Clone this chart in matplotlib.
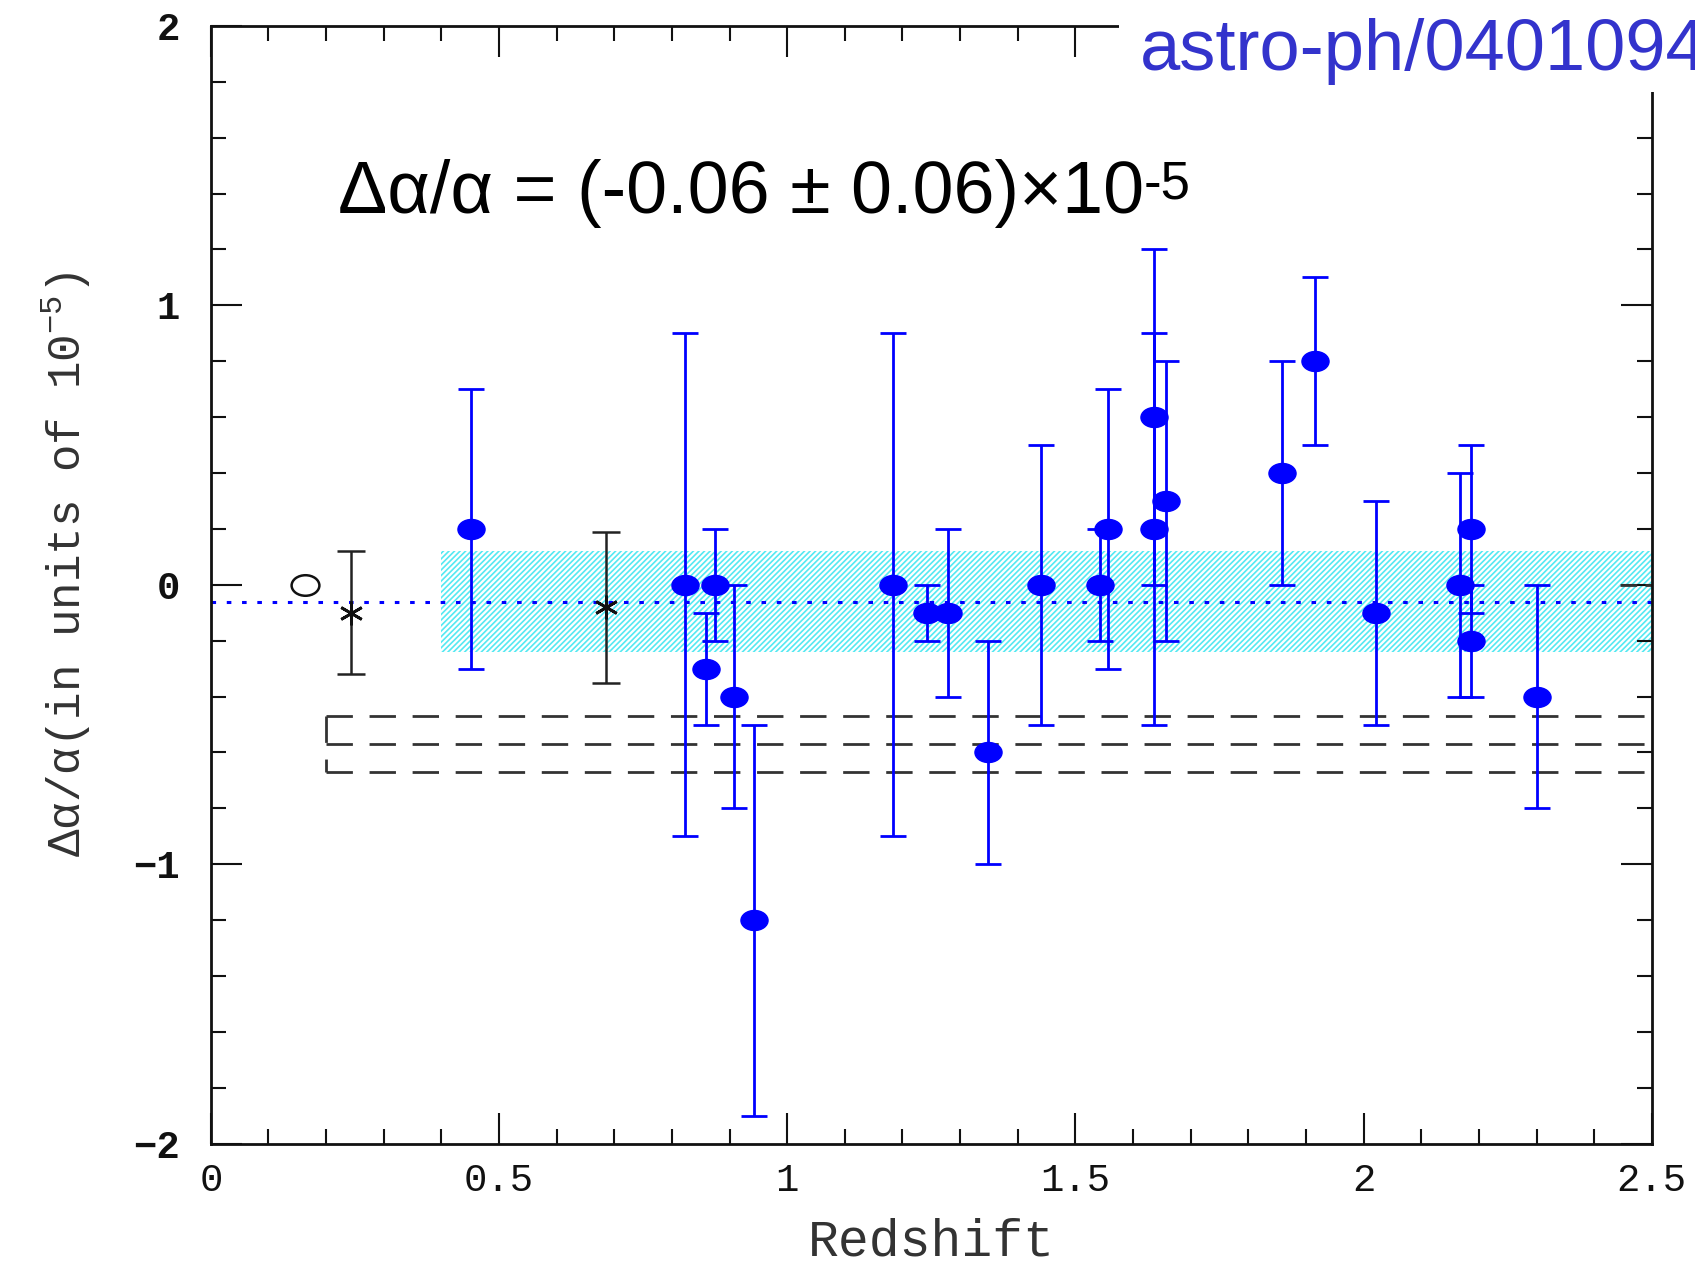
import matplotlib
matplotlib.use("Agg")
import matplotlib.pyplot as plt
from matplotlib.path import Path
from matplotlib.patches import Rectangle
from matplotlib.ticker import MultipleLocator
import matplotlib.transforms as mtransforms

# blue points: redshift, da/a and symmetric error (units of 1e-5)
z_blue = [0.452, 0.823, 0.859, 0.874, 0.908, 0.943, 1.183, 1.243, 1.279, 1.349,
          1.440, 1.543, 1.557, 1.637, 1.637, 1.658, 1.859, 1.915, 2.022, 2.168,
          2.187, 2.187, 2.301]
da_blue = [0.2, 0.0, -0.3, 0.0, -0.4, -1.2, 0.0, -0.1, -0.1, -0.6,
           0.0, 0.0, 0.2, 0.6, 0.2, 0.3, 0.4, 0.8, -0.1, 0.0,
           0.2, -0.2, -0.4]
err_blue = [0.5, 0.9, 0.2, 0.2, 0.4, 0.7, 0.9, 0.1, 0.3, 0.4,
            0.5, 0.2, 0.5, 0.6, 0.7, 0.5, 0.4, 0.3, 0.4, 0.4,
            0.3, 0.2, 0.4]

# black points
z_star = [0.244, 0.686]
da_star = [-0.10, -0.08]
err_star = [0.22, 0.27]
z_open = [0.163]
da_open = [0.0]

# weighted mean and the band around it
mean_da = -0.06
band_half = 0.18
band_z = [0.4, 2.5]
# dashed box (earlier result)
box_mid = -0.57
box_err = 0.10
box_z = [0.2, 2.5]
edge_z = [2.445, 2.5]

plt.rcParams["hatch.linewidth"] = 1.2

fig = plt.figure(figsize=(16.95, 12.67), dpi=100)
ax = fig.add_axes([0.1244, 0.0973, 0.8501, 0.8823])

# squashed ellipse marker like the original scan
ell = Path.unit_circle().transformed(mtransforms.Affine2D().scale(1.0, 0.74))

ax.fill_between(band_z, mean_da - band_half, mean_da + band_half,
                facecolor="none", edgecolor="#55E9F2", hatch="//////",
                linewidth=0, zorder=1)
ax.axhline(mean_da, color="blue", ls=(0, (1.5, 3.5)), lw=2.2, zorder=2)

dash = (0, (9.5, 6))
for y in [box_mid + box_err, box_mid, box_mid - box_err]:
    ax.plot(box_z, [y, y], color="#333333", lw=2, ls=dash, zorder=2)
ax.plot([box_z[0], box_z[0]], [box_mid + box_err, box_mid - box_err],
        color="#333333", lw=2, ls=dash, zorder=2)
ax.plot(edge_z, [0, 0], color="#333333", lw=2, ls=(0, (6, 3)), zorder=2)

ax.errorbar(z_blue, da_blue, yerr=err_blue, fmt="none", ecolor="blue",
            elinewidth=2.0, capsize=9.5, capthick=2.0, zorder=3)
ax.plot(z_blue, da_blue, ls="none", marker=ell, markersize=19.5,
        color="blue", zorder=4)

ax.errorbar(z_star, da_star, yerr=err_star, fmt="none", ecolor="#222222",
            elinewidth=1.8, capsize=10, capthick=1.8, zorder=3)
ax.plot(z_star, da_star, ls="none", marker=(6, 2, 0), markersize=17,
        mew=2, color="#111111", zorder=4)
ax.plot(z_open, da_open, ls="none", marker=ell, markersize=20,
        mfc="none", mec="#111111", mew=1.8, zorder=4)

ax.set_xlim(0, 2.5)
ax.set_ylim(-2, 2)
ax.xaxis.set_major_locator(MultipleLocator(0.5))
ax.xaxis.set_minor_locator(MultipleLocator(0.1))
ax.yaxis.set_major_locator(MultipleLocator(1))
ax.yaxis.set_minor_locator(MultipleLocator(0.2))
ax.tick_params(which="both", direction="in", top=True, right=True, width=1.5, color="#111111")
ax.tick_params(which="major", length=22)
ax.tick_params(which="minor", length=11)
ax.tick_params(axis="x", pad=14)
ax.tick_params(axis="y", pad=22)
for s in ax.spines.values():
    s.set_linewidth(2)
    s.set_color("#111111")

ax.set_xticks([0, 0.5, 1, 1.5, 2, 2.5])
ax.set_xticklabels(["0", "0.5", "1", "1.5", "2", "2.5"],
                   fontfamily="Liberation Mono", fontsize=28, color="#111111")
ax.set_yticks([-2, -1, 0, 1, 2])
ax.set_yticklabels(["\u22122", "\u22121", "0", "1", "2"],
                   fontfamily="Liberation Mono", fontsize=28,
                   fontweight="bold", color="#111111")

ax.set_xlabel("Redshift", fontfamily="Liberation Mono", fontsize=37,
              color="#333333")
ax.xaxis.set_label_coords(0.5, -0.066)
ax.set_ylabel("\u0394\u03b1/\u03b1(in units of 10$^{\\mathregular{-5}}$)",
              fontfamily="Liberation Mono", fontsize=33, color="#333333")
ax.yaxis.set_label_coords(-0.082, 0.518)

t = ax.text(0.22, 1.33, "\u0394\u03b1/\u03b1 = (-0.06 \u00b1 0.06)\u00d710",
            fontfamily="Liberation Sans", fontsize=53, color="black",
            ha="left", va="baseline", zorder=5)
ax.annotate("-5", xy=(1.0, 1.0), xycoords=t, fontfamily="Liberation Sans",
            fontsize=38, color="black", ha="left", va="top", zorder=5)

# white label box covering the top right corner
fig.patches.append(Rectangle((0.660, 0.927), 0.34, 0.073, transform=fig.transFigure,
                             facecolor="white", edgecolor="none", zorder=10))
fig.text(0.6727, 0.9447, "astro-ph/0401094", fontfamily="Liberation Sans",
         fontsize=52, color="#3333CC", ha="left", va="baseline", zorder=11)

fig.savefig("out.png", dpi=100)
